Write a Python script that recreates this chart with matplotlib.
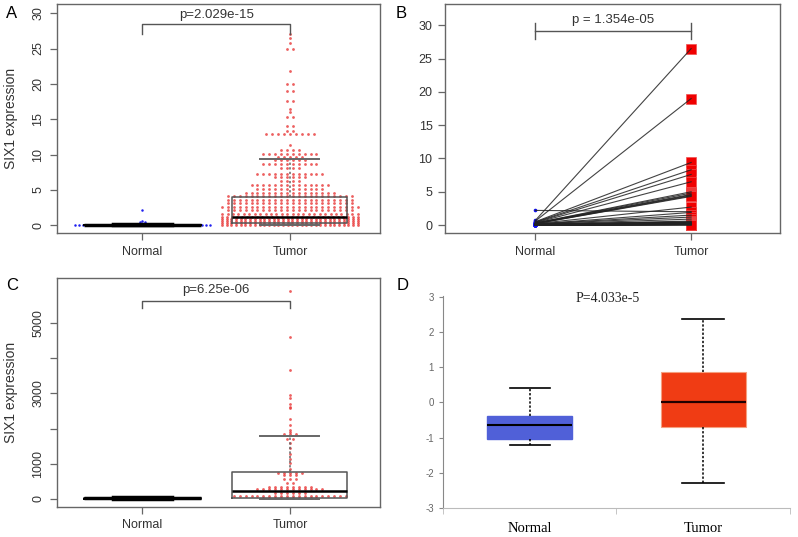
import matplotlib.pyplot as plt
import numpy as np

plt.rcParams['font.family'] = ['Liberation Sans', 'DejaVu Sans']
plt.rcParams['axes.unicode_minus'] = False

groups = ['Normal', 'Tumor']

# panel A: TCGA-style expression, dot rows (level, number of dots)
a_normal_levels = [2.2, 0.6, 0.45, 0.25, 0.12, 0.03]
a_normal_counts = [1, 1, 2, 3, 8, 35]
a_tumor_levels = [27.0, 26.5, 25.8, 25.0, 21.8, 20.0, 19.0, 17.6, 16.5, 16.0, 15.3, 14.0,
                  13.3, 12.9, 11.4, 10.6, 10.1, 9.7, 9.2, 8.6, 8.1, 7.3, 6.8, 6.3, 5.7, 5.2,
                  4.6, 4.1, 3.6, 3.1, 2.6, 2.1, 1.6, 1.2, 0.9, 0.6, 0.35, 0.1]
a_tumor_counts = [1, 1, 1, 2, 1, 2, 2, 2, 1, 1, 2, 2,
                  2, 9, 1, 4, 10, 5, 6, 10, 4, 12, 6, 4, 14, 12,
                  16, 22, 22, 22, 24, 22, 26, 28, 30, 30, 30, 30]
a_normal_box = dict(whislo=0.0, q1=0.01, med=0.04, q3=0.1, whishi=0.22)
a_tumor_box = dict(whislo=0.0, q1=0.35, med=1.2, q3=3.95, whishi=9.4)
a_pvalue = 'p=2.029e-15'

# panel B: paired samples
b_normal = [2.2, 0.7, 0.6, 0.5, 0.45, 0.4, 0.35, 0.3, 0.3, 0.25, 0.25, 0.2, 0.2, 0.2, 0.15,
            0.15, 0.15, 0.1, 0.1, 0.1, 0.1, 0.1, 0.1, 0.08, 0.08, 0.08, 0.06, 0.06, 0.06, 0.05,
            0.05, 0.05, 0.04, 0.04, 0.04, 0.03, 0.03, 0.03, 0.02, 0.02, 0.02, 0.02, 0.01, 0.01,
            0.01, 0.01, 0.0, 0.0, 0.0, 0.0]
b_tumor = [2.0, 26.5, 19.0, 9.4, 8.3, 7.6, 6.5, 5.0, 4.8, 4.6, 4.5, 4.4, 4.3, 2.7, 1.9,
           1.5, 1.2, 0.9, 0.6, 0.5, 0.45, 0.4, 0.35, 0.3, 0.3, 0.28, 0.25, 0.25, 0.22, 0.2,
           0.2, 0.2, 0.18, 0.18, 0.15, 0.15, 0.15, 0.12, 0.12, 0.12, 0.1, 0.1, 0.1, 0.1, 0.08,
           0.08, 0.06, 0.05, 0.04, 0.02]
b_pvalue = 'p = 1.354e-05'

# panel C: second cohort
c_normal_levels = [60, 35, 15]
c_normal_counts = [6, 8, 6]
c_tumor_levels = [5906, 4604, 3660, 2954, 2860, 2690, 2622, 2576, 2264, 2102, 1960, 1895,
                  1847, 1696, 1582, 1440, 1278, 1136, 1032, 843, 748, 682, 560, 445, 350,
                  276, 180, 85, 20]
c_tumor_counts = [1, 1, 1, 1, 1, 1, 1, 1, 1, 1, 1, 1,
                  3, 2, 1, 1, 1, 1, 1, 1, 5, 3, 3, 2, 8,
                  12, 6, 20, 10]
c_normal_box = dict(whislo=0, q1=5, med=20, q3=40, whishi=60)
c_tumor_box = dict(whislo=0, q1=15, med=240, q3=770, whishi=1780)
c_pvalue = 'p=6.25e-06'

# panel D: box summary
d_normal_box = dict(whislo=-1.22, q1=-1.05, med=-0.65, q3=-0.38, whishi=0.4)
d_tumor_box = dict(whislo=-2.28, q1=-0.7, med=0.0, q3=0.88, whishi=2.38)
d_pvalue = 'P=4.033e-5'


def rows_to_xy(center, levels, counts, dx, half):
    xs, ys = [], []
    for lv, n in zip(levels, counts):
        step = dx if (n - 1) * dx <= 2 * half else 2 * half / (n - 1)
        off = (np.arange(n) - (n - 1) / 2) * step
        xs.extend(center + off)
        ys.extend([lv] * n)
    return np.array(xs), np.array(ys)


def r_style(ax, ylim, yticks, ylabels):
    ax.set_xlim(0.42, 2.61)
    ax.set_ylim(*ylim)
    for s in ax.spines.values():
        s.set_color('#666666')
        s.set_linewidth(1.0)
    ax.set_xticks([1, 2])
    ax.set_xticklabels(groups)
    ax.set_yticks(yticks)
    ax.set_yticklabels(ylabels)
    ax.tick_params(colors='#666666', labelcolor='#333333', length=5, width=0.9,
                   labelsize=9, pad=4)


def swarm_panel(ax, normal_rows, tumor_rows, nbox, tbox, dx_unit):
    xn, yn = rows_to_xy(1, *normal_rows, 0.031, 0.46)
    xt, yt = rows_to_xy(2, *tumor_rows, dx_unit, 0.46)
    ax.plot(xn, yn, 'o', ms=1.8, color='#2020F0', mec='none')
    ax.plot(xt, yt, 'o', ms=2.0, color='#E83838', alpha=0.8, mec='none')
    ax.bxp([nbox], positions=[1], widths=0.8, capwidths=0.4, showfliers=False,
           boxprops=dict(color='black', linewidth=1.2),
           whiskerprops=dict(color='black', linewidth=1.2),
           capprops=dict(color='black', linewidth=2.5),
           medianprops=dict(color='black', linewidth=2.5), manage_ticks=False)
    ax.bxp([tbox], positions=[2], widths=0.78, capwidths=0.4, showfliers=False,
           boxprops=dict(color='#555555', linewidth=1.1),
           whiskerprops=dict(color='#666666', linewidth=1.1, linestyle=(0, (1.5, 1.5))),
           capprops=dict(color='#666666', linewidth=1.4),
           medianprops=dict(color='black', linewidth=1.8), manage_ticks=False)


fig = plt.figure(figsize=(7.98, 5.37), dpi=100)

# A
axA = fig.add_axes([0.0714, 0.566, 0.4046, 0.4266])
swarm_panel(axA, (a_normal_levels, a_normal_counts), (a_tumor_levels, a_tumor_counts),
            a_normal_box, a_tumor_box, 0.04)
r_style(axA, (-1.1, 31.3), [0, 5, 10, 15, 20, 25, 30], ['0', '5', '10', '15', '20', '25', '30'])
for lab in axA.get_yticklabels():
    lab.set_rotation(90)
    lab.set_va('center')
axA.set_ylabel('SIX1 expression', fontsize=10, color='#333333')
axA.yaxis.set_label_coords(-0.122, 0.5)
axA.plot([1, 1, 2, 2], [27.1, 28.4, 28.4, 27.1], color='#555555', lw=1.0)
axA.text(1.5, 29.7, a_pvalue, ha='center', va='center', fontsize=9.5, color='#333333')

# B
axB = fig.add_axes([0.5576, 0.566, 0.4198, 0.4266])
axB.plot([2] * len(b_tumor), b_tumor, 's', ms=7.5, color='#F00000', mec='#F05050', mew=0.5)
axB.plot([1] * len(b_normal), b_normal, 'o', ms=2.6, color='#1010F0', mec='none')
for n, t in zip(b_normal, b_tumor):
    axB.plot([1, 2], [n, t], color='#222222', lw=0.8, alpha=0.85)
r_style(axB, (-1.2, 33.2), [0, 5, 10, 15, 20, 25, 30], ['0', '5', '10', '15', '20', '25', '30'])
axB.set_xlim(0.42, 2.57)
axB.plot([1, 2], [29.1, 29.1], color='#555555', lw=1.0)
axB.plot([1, 1], [28.0, 30.3], color='#555555', lw=1.0)
axB.plot([2, 2], [28.0, 30.3], color='#555555', lw=1.0)
axB.text(1.5, 30.85, b_pvalue, ha='center', va='center', fontsize=9.5, color='#333333')

# C
axC = fig.add_axes([0.0714, 0.0559, 0.4046, 0.4264])
swarm_panel(axC, (c_normal_levels, c_normal_counts), (c_tumor_levels, c_tumor_counts),
            c_normal_box, c_tumor_box, 0.04)
r_style(axC, (-227, 6278), [0, 1000, 2000, 3000, 4000, 5000], ['0', '1000', '', '3000', '', '5000'])
for lab in axC.get_yticklabels():
    lab.set_rotation(90)
    lab.set_va('center')
axC.set_ylabel('SIX1 expression', fontsize=10, color='#333333')
axC.yaxis.set_label_coords(-0.122, 0.5)
axC.plot([1, 1, 2, 2], [5425, 5623, 5623, 5425], color='#555555', lw=1.0)
axC.text(1.5, 5924, c_pvalue, ha='center', va='center', fontsize=9.5, color='#333333')

# D
axD = fig.add_axes([0.555, 0.054, 0.435, 0.395])
axD.bxp([d_normal_box], positions=[1], widths=0.49, capwidths=0.23, showfliers=False,
        patch_artist=True,
        boxprops=dict(facecolor='#5060D8', edgecolor='#5060D8'),
        whiskerprops=dict(color='black', linewidth=1.1, linestyle=(0, (1.5, 1.2))),
        capprops=dict(color='black', linewidth=1.2),
        medianprops=dict(color='black', linewidth=1.5), manage_ticks=False)
axD.bxp([d_tumor_box], positions=[2], widths=0.49, capwidths=0.24, showfliers=False,
        patch_artist=True,
        boxprops=dict(facecolor='#F03C14', edgecolor='#F5A080', linewidth=0.8),
        whiskerprops=dict(color='black', linewidth=1.1, linestyle=(0, (1.5, 1.2))),
        capprops=dict(color='black', linewidth=1.2),
        medianprops=dict(color='#220000', linewidth=1.6), manage_ticks=False)
axD.set_xlim(0.5, 2.5)
axD.set_ylim(-3, 3.03)
axD.spines['top'].set_visible(False)
axD.spines['right'].set_visible(False)
axD.spines['left'].set_color('#888888')
axD.spines['bottom'].set_color('#BBBBBB')
axD.set_yticks([-3, -2, -1, 0, 1, 2, 3])
axD.tick_params(axis='y', colors='#888888', labelcolor='#666666', labelsize=7, length=3)
axD.set_xticks([1, 2])
axD.set_xticklabels(groups, family='Liberation Serif', fontsize=10.5)
axD.set_xticks([0.5, 1.5, 2.5], minor=True)
axD.tick_params(axis='x', which='major', length=0, pad=10)
axD.tick_params(axis='x', which='minor', length=4, colors='#BBBBBB')
axD.text(1.45, 2.95, d_pvalue, ha='center', va='center', fontsize=10,
         family='Liberation Serif', color='#222222')

for letter, x, y in [('A', 0.014, 0.975), ('B', 0.503, 0.975), ('C', 0.015, 0.469), ('D', 0.505, 0.469)]:
    fig.text(x, y, letter, ha='center', va='center', fontsize=12)

fig.savefig('out.png', dpi=100)
